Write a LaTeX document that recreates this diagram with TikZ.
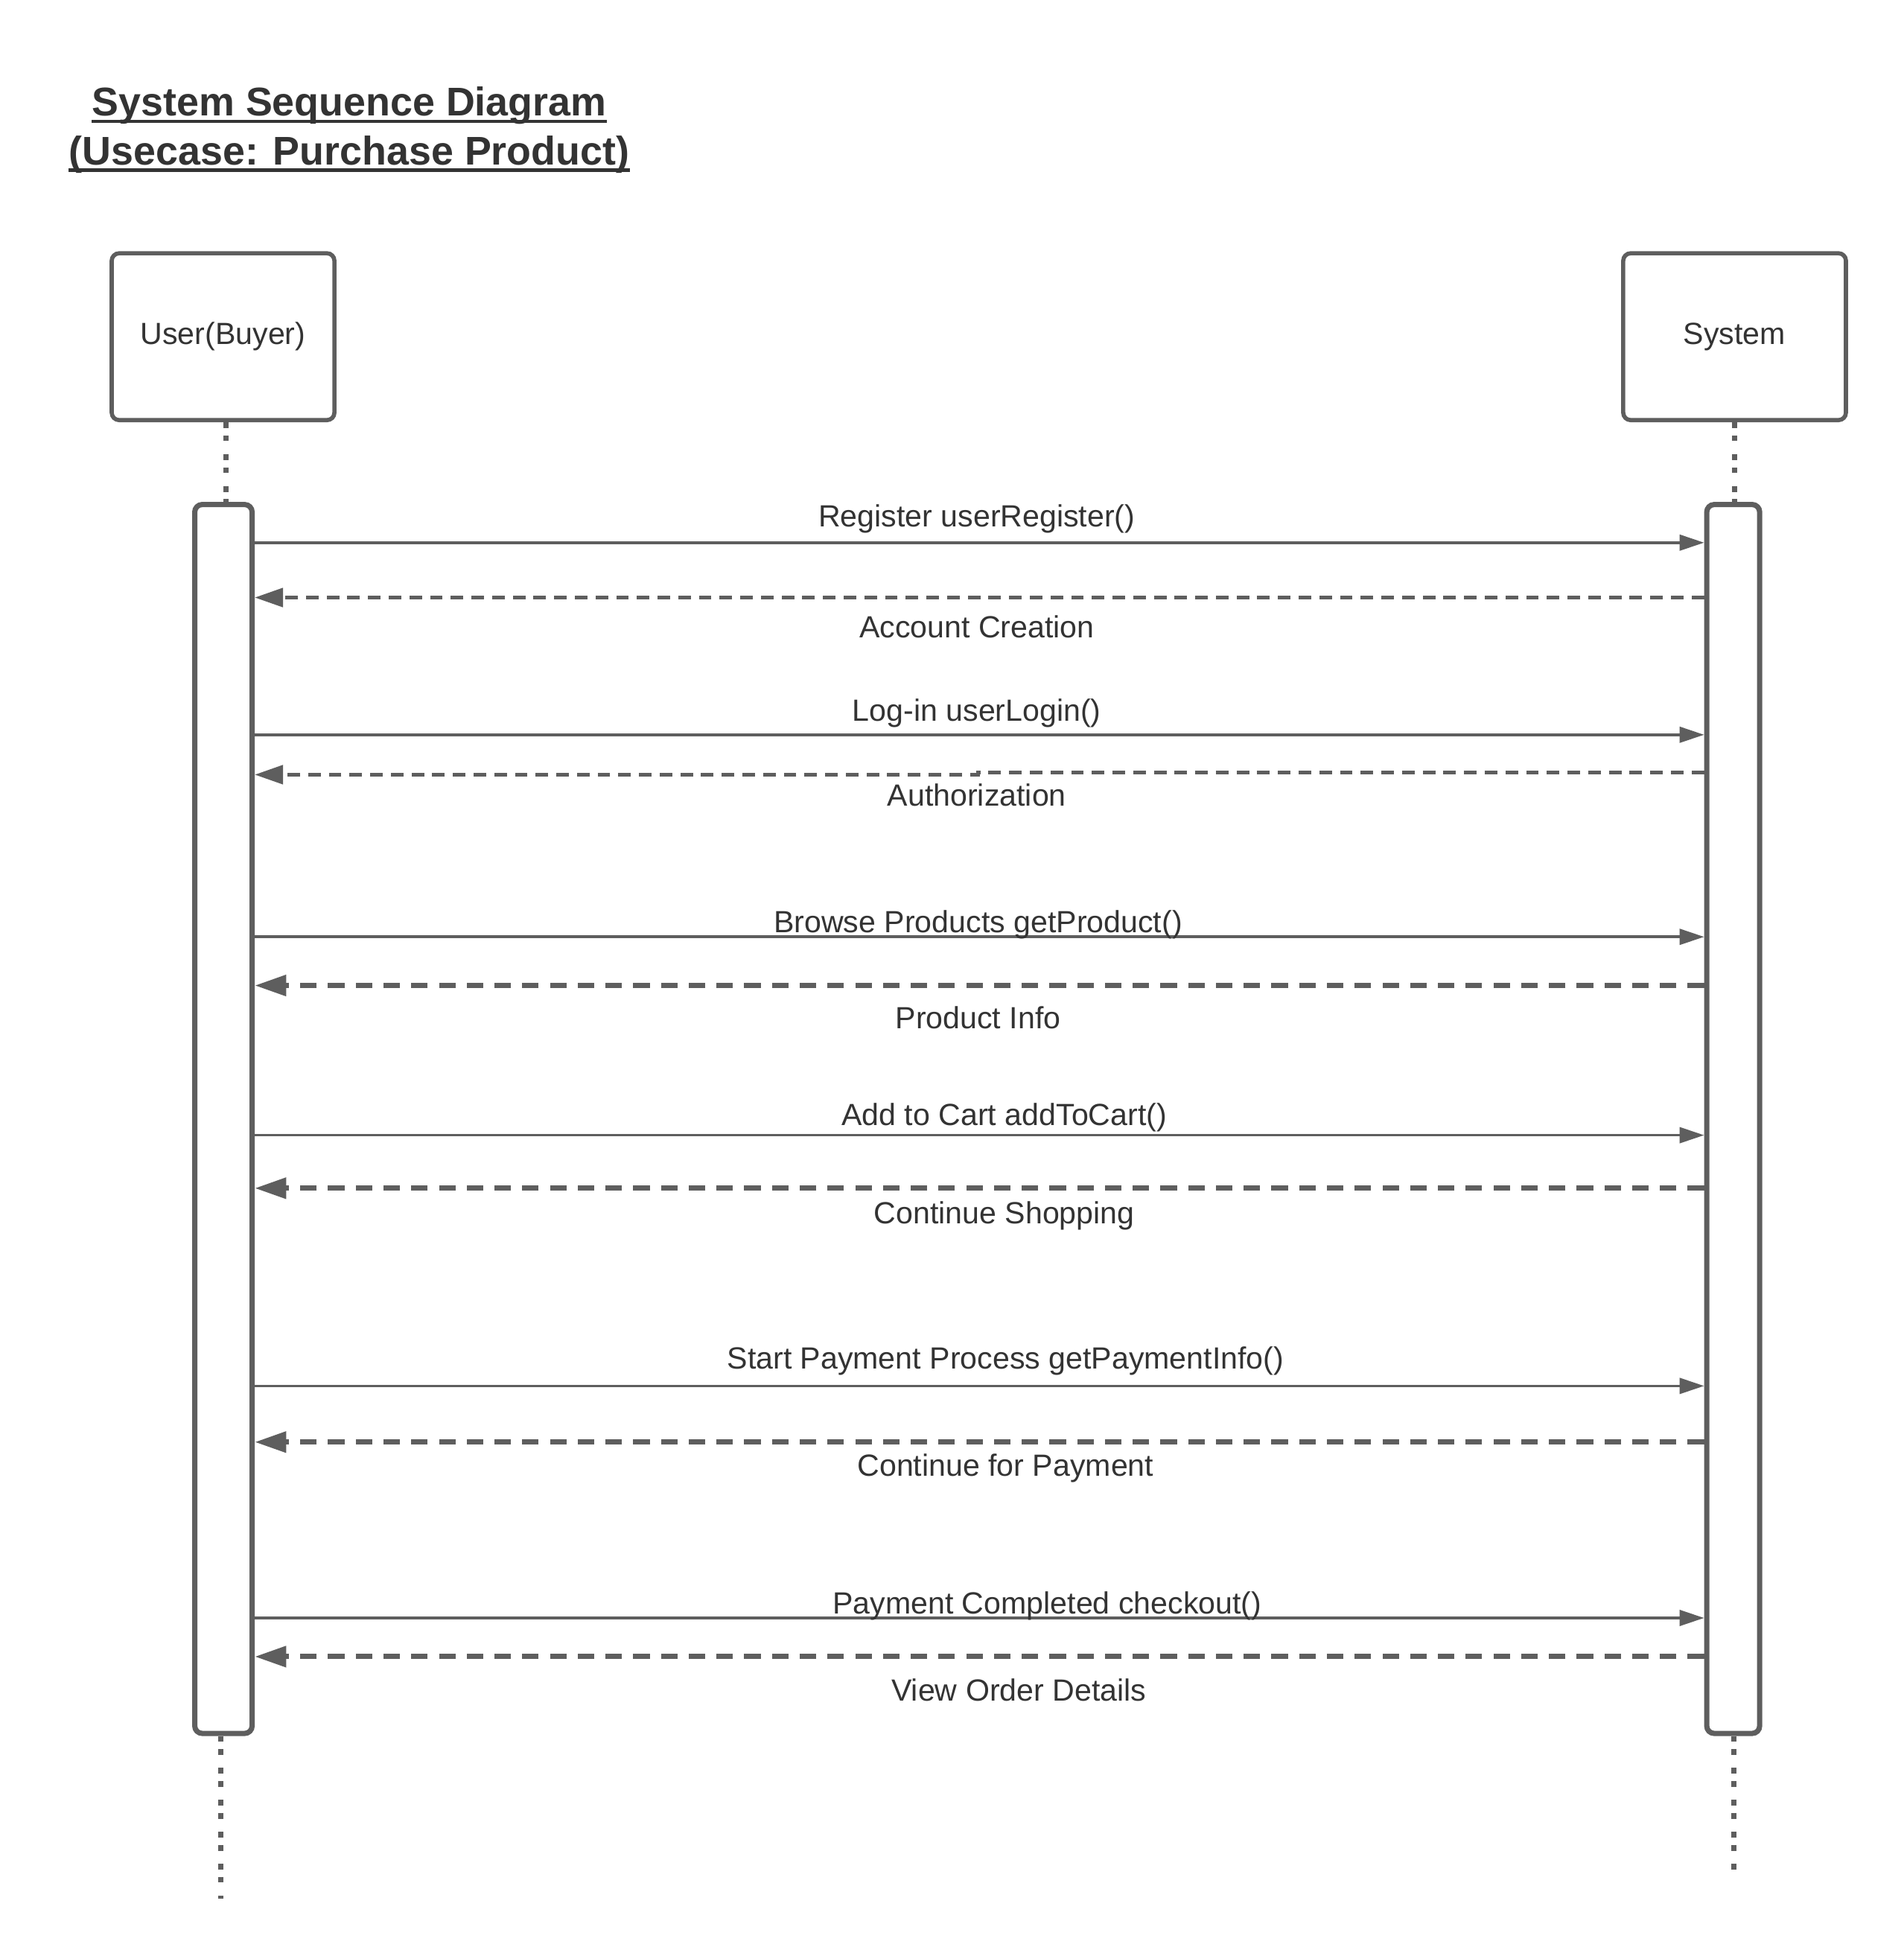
\documentclass[tikz,border=0pt]{standalone}
\usepackage{fontspec}
\setmainfont{Liberation Sans}
\usetikzlibrary{arrows.meta}
\definecolor{linegray}{RGB}{94,94,94}
\definecolor{textgray}{RGB}{51,51,51}

\begin{document}
\begin{tikzpicture}[x=0.1675mm, y=-0.1675mm,
  actor/.style={draw=linegray, line width=1.6pt, rounded corners=1mm,
                minimum width=29.9mm, minimum height=22.4mm, inner sep=0pt,
                text=textgray, font=\fontsize{11.7}{14}\selectfont},
  bar/.style={draw=linegray, line width=2pt, rounded corners=1mm,
              minimum height=165mm, inner sep=0pt},
  lifeline/.style={draw=linegray, line width=2.1pt,
                   dash pattern=on 2.2pt off 2.8pt on 2.2pt off 5pt},
  call/.style={draw=linegray, line width=1.05pt,
               -{Triangle[length=9.4pt, width=6pt]}},
  reply/.style={draw=linegray, line width=1.4pt, dash pattern=on 4.8pt off 3.1pt,
                -{Triangle[length=10.8pt, width=7.1pt]}},
  replybold/.style={reply, line width=2pt, dash pattern=on 6.3pt off 4.3pt,
                    -{Triangle[length=12pt, width=7.7pt]}},
  msg/.style={text=textgray, font=\fontsize{11.7}{14}\selectfont,
              text height=.72em, text depth=0pt, inner sep=0pt},
  ttl/.style={text=textgray, font=\fontsize{15.3}{18}\selectfont\bfseries,
              inner sep=0pt, anchor=base},
  ulline/.style={draw=textgray, line width=1.3pt},
]
\useasboundingbox (0,0) rectangle (1526,1568);

% ---- Title ----
\node[ttl] (t1) at (280,93)    {System Sequence Diagram};
\node[ttl] (t2) at (280,132.5) {(Usecase: Purchase Product)};
\draw[ulline] ([yshift=-2pt]t1.base west) -- ([yshift=-2pt]t1.base east);
\draw[ulline] ([yshift=-1.8pt]t2.base west) -- ([yshift=-1.8pt]t2.base east);

% ---- Actors and activation bars ----
\node[actor] (user) at (178.8,269.9)  {User(Buyer)};
\node[actor] (sys)  at (1390.4,269.9) {System};
\node[bar, minimum width=7.7mm] (ub) at (179.1,897) {};
\node[bar, minimum width=7.1mm] (sb) at (1389.3,897) {};

% ---- Lifelines ----
\coordinate (utop) at (181,0);
\coordinate (uend) at (177,1522);
\coordinate (send) at (1390,1500);
\draw[lifeline] (utop |- user.south) -- (utop |- ub.north);
\draw[lifeline] (sys.south) -- (sys.south |- sb.north);
\draw[lifeline] (uend |- ub.south) -- (uend);
\draw[lifeline] (send |- sb.south) -- (send);

% ---- Calls (user -> system) ----
\foreach \y in {435,589,751,910,1111,1297}{
  \coordinate (lvl) at (0,\y);
  \draw[call] (ub.east |- lvl) -- (sb.west |- lvl);
}

% ---- Replies (system -> user) ----
\coordinate (lvl) at (0,479);
\draw[reply] (sb.west |- lvl) -- (ub.east |- lvl);
\coordinate (a1) at (784,619.3);
\coordinate (a2) at (784,621);
\draw[reply] (sb.west |- a1) -- (a1) -- (a2) -- (ub.east |- a2);
\foreach \y in {790,952.5,1156,1328}{
  \coordinate (lvl) at (0,\y);
  \draw[replybold] (sb.west |- lvl) -- (ub.east |- lvl);
}

% ---- Message labels ----
\node[msg] (l1)  at (783,415)    {Register userRegister()};
\node[msg] (l2)  at (783,503.5)  {Account Creation};
\node[msg] (l3)  at (783,570.5)  {Log-in userLogin()};
\node[msg] (l4)  at (783,638.5)  {Authorization};
\node[msg] (l5)  at (784,740)    {Browse Products getProduct()};
\node[msg] (l6)  at (784,817)    {Product Info};
\node[msg] (l7)  at (805,894.5)  {Add to Cart addToCart()};
\node[msg] (l8)  at (805,973.5)  {Continue Shopping};
\node[msg] (l9)  at (806,1089.5) {Start Payment Process getPaymentInfo()};
\node[msg] (l10) at (806,1175.5) {Continue for Payment};
\node[msg] (l11) at (839.4,1286) {Payment Completed checkout()};
\node[msg] (l12) at (816.7,1356) {View Order Details};
\end{tikzpicture}
\end{document}
